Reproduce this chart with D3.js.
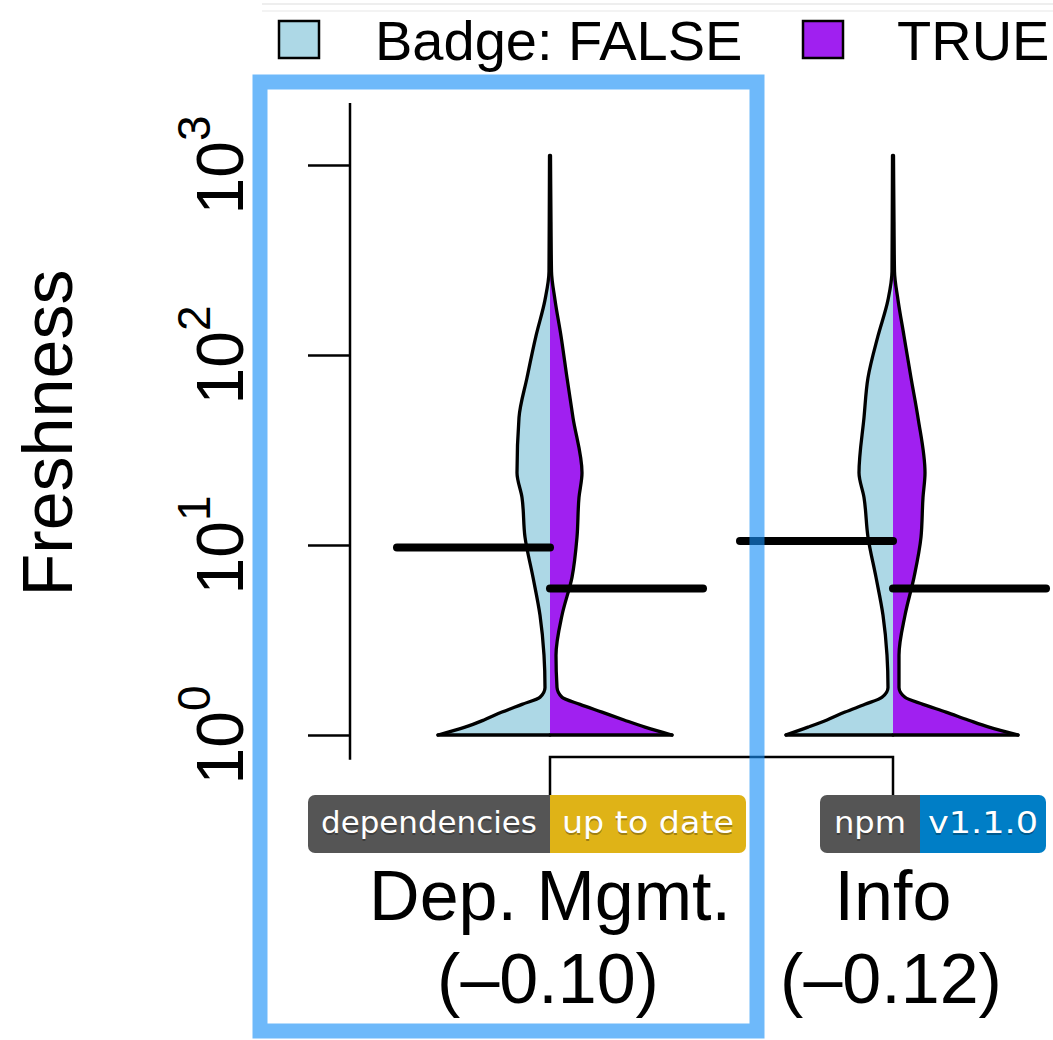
<!DOCTYPE html>
<html>
<head>
<meta charset="utf-8">
<script src="https://d3js.org/d3.v7.min.js"></script>
<style>
  body { margin: 0; background: #fff; }
  text { font-family: "Liberation Sans", Arial, Helvetica, sans-serif; }
  .badge text { font-family: "DejaVu Sans", Verdana, sans-serif; }
</style>
</head>
<body>
<script>
// categories and their correlation labels
var categories = ["Dep. Mgmt.", "Info"];
var correlations = ["(\u20130.10)", "(\u20130.12)"];
var groups = ["FALSE", "TRUE"];
var groupColors = ["#add8e6", "#a020f0"];

// freshness values at which the density was read
var freshnessGrid = [1, 1.1, 1.2, 1.32, 1.45, 1.58, 1.78, 2.63, 4.27, 6.76,
                     11.0, 17.8, 24.0, 46.8, 75.9, 126, 195, 275, 501, 1122];

// density (scaled 0..1) per category, per badge group
var depFalse  = [0.896, 0.68, 0.528, 0.384, 0.224, 0.08, 0.04, 0.048, 0.08, 0.136,
                 0.2, 0.224, 0.264, 0.248, 0.184, 0.112, 0.04, 0.008, 0.006, 0.004];
var depTrue   = [0.976, 0.76, 0.592, 0.416, 0.24, 0.096, 0.056, 0.048, 0.096, 0.176,
                 0.216, 0.232, 0.256, 0.184, 0.136, 0.088, 0.04, 0.012, 0.008, 0.004];
var infoFalse = [0.856, 0.68, 0.528, 0.384, 0.224, 0.088, 0.04, 0.048, 0.08, 0.136,
                 0.2, 0.232, 0.272, 0.232, 0.2, 0.12, 0.04, 0.008, 0.006, 0.004];
var infoTrue  = [1.0, 0.768, 0.6, 0.424, 0.24, 0.096, 0.048, 0.048, 0.096, 0.168,
                 0.224, 0.24, 0.256, 0.2, 0.144, 0.088, 0.04, 0.012, 0.008, 0.004];
var densities = [[depFalse, depTrue], [infoFalse, infoTrue]];

// medians per category: [FALSE, TRUE]
var medianFalse = [9.7, 10.5];
var medianTrue = [5.9, 5.9];

// axis
var tickValues = [1, 10, 100, 1000];
var tickExponents = ["0", "1", "2", "3"];
var axisLimits = [0.74, 2120];

// badges shown under each category
var badgeLeft = ["dependencies", "npm"];
var badgeRight = ["up to date", "v1.1.0"];
var badgeRightColors = ["#dfb317", "#007ec6"];

var svg = d3.select("body").append("svg")
  .attr("width", 1053)
  .attr("height", 1040);

var y = d3.scaleLog().domain([1, 1000]).range([735, 165]);
var x = d3.scalePoint().domain(categories).range([550, 893]);
var w = d3.scaleLinear().domain([0, 1]).range([0, 125]);

// faint legend box edge
svg.append("line").attr("x1", 262).attr("x2", 1053).attr("y1", 4).attr("y2", 4)
  .attr("stroke", "#eeeeee").attr("stroke-width", 2);
svg.append("line").attr("x1", 262).attr("x2", 1053).attr("y1", 11).attr("y2", 11)
  .attr("stroke", "#f3f3f3").attr("stroke-width", 2);

// y axis
var axis = svg.append("g")
  .attr("transform", "translate(350,0)")
  .call(d3.axisLeft(y).tickValues(tickValues).tickSize(42).tickSizeOuter(0).tickFormat(""));
axis.select(".domain").remove();
axis.selectAll(".tick line").attr("stroke", "#000").attr("stroke-width", 2.5);
axis.append("line")
  .attr("x1", 0).attr("x2", 0)
  .attr("y1", y(axisLimits[0])).attr("y2", y(axisLimits[1]))
  .attr("stroke", "#000").attr("stroke-width", 2.5);

tickValues.forEach(function(v, i) {
  var t = svg.append("text")
    .attr("transform", "translate(243," + y(v) + ") rotate(-90)")
    .attr("text-anchor", "middle")
    .attr("font-size", 66)
    .text("10");
  t.append("tspan").attr("font-size", 46).attr("dy", -33).text(tickExponents[i]);
});

svg.append("text")
  .attr("transform", "translate(72,433) rotate(-90)")
  .attr("text-anchor", "middle")
  .attr("font-size", 70)
  .text("Freshness");

// split violins
categories.forEach(function(cat, i) {
  var cx = x(cat);
  groups.forEach(function(g, j) {
    var side = j == 0 ? -1 : 1;
    var pts = freshnessGrid.map(function(f, k) { return {f: f, d: densities[i][j][k]}; });

    var area = d3.area()
      .curve(d3.curveMonotoneY)
      .y(function(d) { return y(d.f); })
      .x0(cx)
      .x1(function(d) { return cx + side * w(d.d); });
    svg.append("path").datum(pts)
      .attr("d", area)
      .attr("fill", groupColors[j]);

    var edge = d3.line()
      .curve(d3.curveMonotoneY)
      .y(function(d) { return y(d.f); })
      .x(function(d) { return cx + side * w(d.d); });
    svg.append("path").datum(pts)
      .attr("d", edge)
      .attr("fill", "none")
      .attr("stroke", "#000")
      .attr("stroke-width", 3.3)
      .attr("stroke-linejoin", "round")
      .attr("stroke-linecap", "round");

    svg.append("line")
      .attr("x1", cx).attr("x2", cx + side * w(pts[0].d))
      .attr("y1", y(pts[0].f)).attr("y2", y(pts[0].f))
      .attr("stroke", "#000").attr("stroke-width", 3.3)
      .attr("stroke-linecap", "round");
  });
});

// medians
categories.forEach(function(cat, i) {
  var cx = x(cat);
  svg.append("line")
    .attr("x1", cx - 153).attr("x2", cx)
    .attr("y1", y(medianFalse[i])).attr("y2", y(medianFalse[i]))
    .attr("stroke", "#000").attr("stroke-width", 8).attr("stroke-linecap", "round");
  svg.append("line")
    .attr("x1", cx).attr("x2", cx + 153)
    .attr("y1", y(medianTrue[i])).attr("y2", y(medianTrue[i]))
    .attr("stroke", "#000").attr("stroke-width", 8).attr("stroke-linecap", "round");
});

// bracket joining the two categories
svg.append("path")
  .attr("d", "M" + x(categories[0]) + ",796V757H" + x(categories[1]) + "V796")
  .attr("fill", "none")
  .attr("stroke", "#000")
  .attr("stroke-width", 2.5);

// badges
var badgeStart = [-242, -73];
var leftW = [242, 100];
var rightW = [196, 126];
var leftTextLen = [216, 72];
var rightTextLen = [172, 110];
categories.forEach(function(cat, i) {
  var bx = x(cat) + badgeStart[i];
  var by = 795, bh = 58;
  var b = svg.append("g").attr("class", "badge");
  var clipId = "clip" + i;
  b.append("clipPath").attr("id", clipId)
    .append("rect").attr("x", bx).attr("y", by)
    .attr("width", leftW[i] + rightW[i]).attr("height", bh).attr("rx", 7);
  var inner = b.append("g").attr("clip-path", "url(#" + clipId + ")");
  inner.append("rect").attr("x", bx).attr("y", by).attr("width", leftW[i]).attr("height", bh)
    .attr("fill", "#555");
  inner.append("rect").attr("x", bx + leftW[i]).attr("y", by).attr("width", rightW[i]).attr("height", bh)
    .attr("fill", badgeRightColors[i]);

  var labels = [
    {t: badgeLeft[i], cx: bx + leftW[i] / 2, len: leftTextLen[i]},
    {t: badgeRight[i], cx: bx + leftW[i] + rightW[i] / 2, len: rightTextLen[i]}
  ];
  labels.forEach(function(l) {
    b.append("text").attr("x", l.cx).attr("y", by + 40)
      .attr("text-anchor", "middle").attr("font-size", 30)
      .attr("textLength", l.len).attr("lengthAdjust", "spacingAndGlyphs")
      .attr("fill", "#010101").attr("fill-opacity", 0.3).text(l.t);
    b.append("text").attr("x", l.cx).attr("y", by + 38)
      .attr("text-anchor", "middle").attr("font-size", 30)
      .attr("textLength", l.len).attr("lengthAdjust", "spacingAndGlyphs")
      .attr("fill", "#fff").text(l.t);
  });
});

// category labels
categories.forEach(function(cat, i) {
  svg.append("text").attr("x", x(cat)).attr("y", 920)
    .attr("text-anchor", "middle").attr("font-size", 70).text(cat);
  svg.append("text").attr("x", x(cat) - 2).attr("y", 1003)
    .attr("text-anchor", "middle").attr("font-size", 70).text(correlations[i]);
});

// highlight frame around the first category
svg.append("rect")
  .attr("x", 260).attr("y", 82)
  .attr("width", 497).attr("height", 949)
  .attr("fill", "none")
  .attr("stroke", "#158ef7")
  .attr("stroke-opacity", 0.62)
  .attr("stroke-width", 15);

// legend
var legendX = [279, 803];
var legendTextX = [375, 897];
var legendText = ["Badge: FALSE", "TRUE"];
groups.forEach(function(g, j) {
  svg.append("rect")
    .attr("x", legendX[j]).attr("y", 21)
    .attr("width", 40).attr("height", 37)
    .attr("fill", groupColors[j])
    .attr("stroke", "#000").attr("stroke-width", 2.5);
  svg.append("text")
    .attr("x", legendTextX[j]).attr("y", 60)
    .attr("font-size", 56)
    .text(legendText[j]);
});
</script>
</body>
</html>
